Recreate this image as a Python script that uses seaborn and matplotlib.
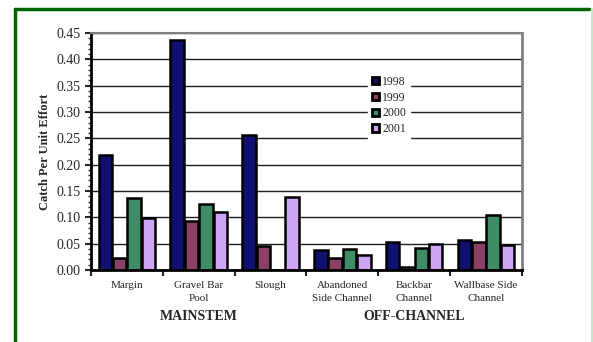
import numpy as np
import pandas as pd
import seaborn as sns
import matplotlib.pyplot as plt
from matplotlib.lines import Line2D

habitats = ['Margin', 'Gravel Bar\nPool', 'Slough', 'Abandoned\nSide Channel',
            'Backbar\nChannel', 'Wallbase Side\nChannel']
years = ['1998', '1999', '2000', '2001']
cpue_1998 = [0.218, 0.437, 0.256, 0.038, 0.053, 0.057]
cpue_1999 = [0.022, 0.093, 0.046, 0.023, 0.006, 0.053]
cpue_2000 = [0.137, 0.125, 0.0, 0.040, 0.042, 0.104]
cpue_2001 = [0.099, 0.110, 0.139, 0.028, 0.049, 0.048]
colours = ['#000080', '#993366', '#339966', '#CC99FF']

df = pd.DataFrame({
    'habitat': habitats * 4,
    'year': [y for y in years for _ in habitats],
    'cpue': cpue_1998 + cpue_1999 + cpue_2000 + cpue_2001,
})

sns.set_style('white')
plt.rcParams['font.family'] = ['Liberation Serif', 'DejaVu Serif']

fig = plt.figure(figsize=(5.93, 3.42), dpi=100)
ax = fig.add_axes([0.1535, 0.2105, 0.7265, 0.693])

sns.barplot(data=df, x='habitat', y='cpue', hue='year', palette=colours,
            edgecolor='black', linewidth=1.8, width=0.8, gap=0.06, ax=ax)

ax.set_ylim(0, 0.45)
ax.set_xlim(-0.5, 5.5)
ax.set_yticks(np.arange(0, 0.46, 0.05))
ax.set_yticklabels(['%.2f' % v for v in np.arange(0, 0.46, 0.05)], fontsize=10)
ax.set_yticks(np.arange(0, 0.451, 0.01), minor=True)
ax.tick_params(axis='y', which='major', direction='out', length=4, width=1.5, left=True)
ax.tick_params(axis='y', which='minor', direction='out', length=2, width=1, left=True)
ax.yaxis.grid(True, color='#202020', linewidth=1)
ax.set_axisbelow(True)

ax.set_xticks(np.arange(-0.5, 5.6, 1))
ax.set_xticklabels([])
ax.set_xticks(np.arange(6), minor=True)
ax.set_xticklabels(habitats, minor=True, fontsize=8, linespacing=1.6, va='top')
ax.tick_params(axis='x', which='major', direction='out', length=4, width=1.5, bottom=True)
ax.tick_params(axis='x', which='minor', length=0, pad=8)

ax.set_xlabel('')
ax.set_ylabel('Catch Per Unit Effort', fontsize=9, fontweight='bold')

for s in ['left', 'bottom']:
    ax.spines[s].set_color('black')
    ax.spines[s].set_linewidth(2)
ax.spines['top'].set_color('#808080')
ax.spines['top'].set_linewidth(1.5)
ax.spines['right'].set_color('#808080')
ax.spines['right'].set_linewidth(2)

ax.text(1, -0.17, 'MAINSTEM', transform=ax.get_xaxis_transform(), ha='center',
        va='top', fontsize=10, fontweight='bold')
ax.text(4, -0.17, 'OFF-CHANNEL', transform=ax.get_xaxis_transform(), ha='center',
        va='top', fontsize=10, fontweight='bold')

leg = ax.legend(loc='upper left', bbox_to_anchor=(0.643, 0.835), frameon=True,
                fontsize=8.5, handlelength=0.6, handleheight=0.6, handletextpad=0.3,
                labelspacing=0.33, borderpad=0.3, borderaxespad=0, fancybox=False)
leg.get_frame().set_edgecolor('white')
leg.get_frame().set_facecolor('white')
leg.get_frame().set_alpha(1)
for h in leg.legend_handles:
    h.set_edgecolor('black')
    h.set_linewidth(2)

fig.add_artist(Line2D([15 / 593, 589 / 593], [1 - 9 / 342, 1 - 9 / 342],
                      transform=fig.transFigure, color='#006400', linewidth=2.5))
fig.add_artist(Line2D([15 / 593, 15 / 593], [0, 1 - 9 / 342],
                      transform=fig.transFigure, color='#006400', linewidth=2.5))
fig.add_artist(Line2D([591.5 / 593, 591.5 / 593], [0, 1 - 9 / 342],
                      transform=fig.transFigure, color='#c8e6c8', linewidth=1.5))

fig.savefig('out.png', dpi=100)
